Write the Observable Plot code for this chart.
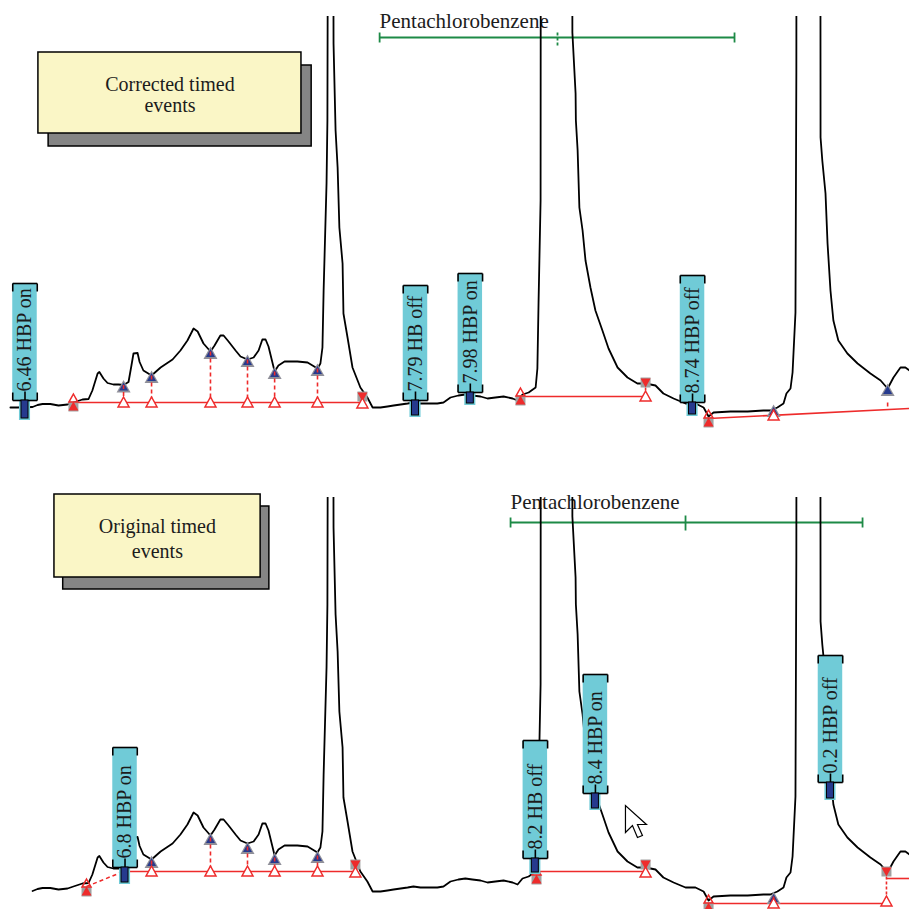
<!DOCTYPE html>
<html><head><meta charset="utf-8">
<script src="https://cdn.jsdelivr.net/npm/d3@7"></script>
<script src="https://cdn.jsdelivr.net/npm/@observablehq/plot@0.6"></script>
<style>
html,body{margin:0;padding:0;background:#fff;}
#chart{width:909px;}
#chart svg{display:block;}
</style></head><body><div id="chart"></div>
<script>
// ---------- data ----------
// retention time (min) and detector signal of the chromatogram trace
const traceTime = [6.401,6.425,6.477,6.494,6.511,6.538,6.566,6.597,6.617,6.648,6.669,6.682,6.700,6.706,6.720,6.734,6.754,6.772,6.789,6.806,6.816,6.823,6.837,6.844,6.857,6.885,6.916,6.957,6.984,7.008,7.029,7.043,7.063,7.087,7.101,7.121,7.132,7.149,7.173,7.190,7.214,7.235,7.252,7.265,7.276,7.286,7.307,7.320,7.341,7.385,7.420,7.454,7.464,7.471,7.475,7.485,7.488,7.491,7.500,7.507,7.509,7.516,7.523,7.529,7.540,7.543,7.557,7.574,7.601,7.625,7.643,7.670,7.694,7.715,7.739,7.763,7.783,7.807,7.831,7.865,7.886,7.910,7.937,7.961,7.985,8.013,8.037,8.064,8.092,8.123,8.140,8.157,8.178,8.202,8.208,8.212,8.219,8.220,8.274,8.327,8.328,8.339,8.340,8.346,8.352,8.363,8.373,8.390,8.407,8.431,8.452,8.483,8.517,8.551,8.579,8.613,8.640,8.675,8.716,8.750,8.778,8.795,8.812,8.870,8.929,8.983,9.007,9.031,9.052,9.062,9.076,9.083,9.093,9.096,9.097,9.138,9.178,9.179,9.185,9.196,9.203,9.213,9.223,9.240,9.271,9.306,9.350,9.385,9.409,9.429,9.453,9.470,9.484];
const traceSignal = [13,13,13.5,15.5,16.5,16.5,15,16,18,21,21.5,30,47,48.5,42,37.5,36,36,35.5,38.5,55,67,67.5,58.5,50,45,53,61,70,80,92,89,77,69,75,85,85,79,70,64,61,63,70,81,81,74,49,55,59,59,58,52,57,73,130,237,300,700,1500,700,377,290,253,193,157,107,83,53,33,23,13,13,14,15,16,17,18,17,17,17,18,23,25,26,25,24,22,23,24,22,20,26,28,33,52,118,220,700,1800,700,388,327,300,270,213,190,160,133,110,90,72,53,43,37,37,35,27,22,17,17,13,4,8,9,9,10,10,13,17,27,32,48,108,348,700,1500,700,283,260,227,177,130,100,80,67,57,47,40,32,43,53,53,50];

const panelNames = ["Corrected timed events", "Original timed events"];
const panelTraceStart = [6.401, 6.477];

// timed events (label text, time, box top / bottom, marker tip)
const eventsTop = [
  {label:"6.46 HBP on",  t:6.451, top:137, bottom:20, tip:2},
  {label:"7.79 HB off",  t:7.790, top:135, bottom:20, tip:5},
  {label:"7.98 HBP on",  t:7.978, top:147, bottom:28, tip:17},
  {label:"8.74 HBP off", t:8.740, top:145, bottom:18, tip:6}
];
const eventsBottom = [
  {label:"6.8 HBP on",  t:6.794, top:157, bottom:37,  tip:22},
  {label:"8.2 HB off",  t:8.201, top:164, bottom:46,  tip:32},
  {label:"8.4 HBP on",  t:8.407, top:230, bottom:111, tip:96},
  {label:"0.2 HBP off", t:9.213, top:249, bottom:122, tip:106}
];

// integration baselines
const baselinesTop = [
  {t1:6.617, s1:18, t2:7.608, s2:18},
  {t1:8.150, s1:24, t2:8.579, s2:24},
  {t1:8.795, s1:2,  t2:9.484, s2:12}
];
const baselinesBottom = [
  {t1:6.789, s1:33, t2:7.584, s2:33},
  {t1:8.205, s1:33, t2:8.579, s2:33},
  {t1:8.795, s1:1,  t2:9.405, s2:1},
  {t1:9.405, s1:26, t2:9.484, s2:26}
];
const dashedBaselinesBottom = [{t1:6.662, s1:18, t2:6.789, s2:33}];

// peak-valley drops (time, signal on trace, signal on baseline)
const dropsTop = [
  {t:6.789, trace:35.5, base:18}, {t:6.885, trace:45, base:18}, {t:7.087, trace:69, base:18},
  {t:7.214, trace:61, base:18}, {t:7.307, trace:49, base:18}, {t:7.454, trace:52, base:18},
  {t:9.018, trace:11, base:5}
];
const dropsTopShort = [{t:9.409, trace:32, base:14}];
const dropsBottom = [
  {t:6.885, trace:44, base:33}, {t:7.087, trace:67, base:33}, {t:7.214, trace:58, base:33},
  {t:7.307, trace:47, base:33}, {t:7.454, trace:49, base:33}, {t:9.018, trace:8, base:1}
];
// baseline end marks (time, trace signal, baseline signal)
const endsTop = [{t:7.608, trace:24, base:17}, {t:8.579, trace:38, base:24}];
const endsBottom = [{t:7.584, trace:40, base:32}, {t:8.579, trace:40, base:32}, {t:9.405, trace:33, base:3}];
// baseline start marks
const startsTop = [{t:6.617, s:18}, {t:8.150, s:24}, {t:8.795, s:2}];
const startsBottom = [{t:6.662, s:17}, {t:8.205, s:29}, {t:8.795, s:1}];

// compound window
const pentaTop = [{label:"Pentachlorobenzene", t1:7.667, t2:8.884, tm:8.277, s:383, ts:399}];
const pentaBottom = [{label:"Pentachlorobenzene", t1:8.116, t2:9.323, tm:8.716, s:382, ts:402}];

// note boxes
const noteTop = [{t1:6.497, t2:7.399, s1:287, s2:368, dt:0.035, ds:-13}];
const noteBottom = [{t1:6.552, t2:7.259, s1:327, s2:410, dt:0.030, ds:-12}];
const noteLinesTop = [{text:"Corrected timed", t:6.948, s:336}, {text:"events", t:6.948, s:315}];
const noteLinesBottom = [{text:"Original timed", t:6.905, s:378}, {text:"events", t:6.905, s:353}];

const cursorBottom = [{t:8.510, s:99}];

// ---------- drawing ----------
const timeDomain = [6.367, 9.484];
const RED = "#ee2b2b", NAVY = "#263a8e", TEAL = "#70cbd7", GREEN = "#1d8a46",
      GRAY = "#8f8f99", INK = "#1c1c1c", YELLOW = "#faf6c6", SHADOW = "#858585";
const FONT = "'Liberation Serif','DejaVu Serif',serif";
const HW = 0.042, MW = 0.012, HALO = 0.019;

function sym(pts) {
  return {draw(ctx, size) {
    const k = Math.sqrt(size / Math.PI);
    ctx.moveTo(pts[0][0] * k, pts[0][1] * k);
    for (let i = 1; i < pts.length; i++) ctx.lineTo(pts[i][0] * k, pts[i][1] * k);
    ctx.closePath();
  }};
}
const TRI_UP = sym([[0,-1],[1,0.8],[-1,0.8]]);
const TRI_DN = sym([[0,1],[1,-0.8],[-1,-0.8]]);
const SQUARE = sym([[-1,-1],[1,-1],[1,1],[-1,1]]);
const CURSOR = {draw(ctx) {
  const p = [[0,0],[0,27],[7,20],[12,32],[17,30],[12,19],[21,19]];
  ctx.moveTo(p[0][0], p[0][1]);
  for (let i = 1; i < p.length; i++) ctx.lineTo(p[i][0], p[i][1]);
  ctx.closePath();
}};

const trace = traceTime.map((t, i) => ({t, s: traceSignal[i]}));

function eventMarks(ev) {
  const blk = {stroke:"#000", strokeWidth:1.6};
  return [
    Plot.rect(ev, {x1:d => d.t - HW, x2:d => d.t + HW, y1:"bottom", y2:"top", fill:TEAL}),
    Plot.rect(ev, {x1:d => d.t - HALO, x2:d => d.t + HALO, y1:d => d.tip - 2, y2:"bottom", fill:TEAL}),
    Plot.link(ev, {x1:d => d.t - HW, x2:d => d.t + HW, y1:"top", y2:"top", ...blk}),
    Plot.link(ev, {x1:d => d.t - HW, x2:d => d.t - HW, y1:"top", y2:d => d.top - 8, ...blk}),
    Plot.link(ev, {x1:d => d.t + HW, x2:d => d.t + HW, y1:"top", y2:d => d.top - 8, ...blk}),
    Plot.link(ev, {x1:d => d.t - HW, x2:d => d.t + HW, y1:"bottom", y2:"bottom", ...blk}),
    Plot.link(ev, {x1:d => d.t - HW, x2:d => d.t - HW, y1:"bottom", y2:d => d.bottom + 8, ...blk}),
    Plot.link(ev, {x1:d => d.t + HW, x2:d => d.t + HW, y1:"bottom", y2:d => d.bottom + 8, ...blk}),
    Plot.link(ev, {x1:"t", x2:"t", y1:"bottom", y2:d => d.bottom + 9, ...blk}),
    Plot.rect(ev, {x1:d => d.t - MW, x2:d => d.t + MW, y1:"tip", y2:"bottom", fill:NAVY, stroke:"#000", strokeWidth:1}),
    Plot.text(ev, {x:"t", y:d => d.bottom + 9, text:"label", rotate:-90, textAnchor:"start",
      fontSize:20, fontFamily:FONT, fill:INK})
  ];
}

function panel(o) {
  const tr = trace.filter(d => d.t >= o.start);
  const marks = [
    // note box with shadow
    Plot.rect(o.note, {x1:d => d.t1 + d.dt, x2:d => d.t2 + d.dt, y1:d => d.s1 + d.ds, y2:d => d.s2 + d.ds,
      fill:SHADOW, stroke:"#000", strokeWidth:1.5}),
    Plot.rect(o.note, {x1:"t1", x2:"t2", y1:"s1", y2:"s2", fill:YELLOW, stroke:"#000", strokeWidth:1.5}),
    Plot.text(o.noteLines, {x:"t", y:"s", text:"text", fontSize:20, fontFamily:FONT, fill:INK}),
    // compound window
    Plot.link(o.penta, {x1:"t1", x2:"t2", y1:"s", y2:"s", stroke:GREEN, strokeWidth:1.8}),
    Plot.link(o.penta, {x1:"t1", x2:"t1", y1:d => d.s - 5, y2:d => d.s + 5, stroke:GREEN, strokeWidth:1.8}),
    Plot.link(o.penta, {x1:"t2", x2:"t2", y1:d => d.s - 5, y2:d => d.s + 5, stroke:GREEN, strokeWidth:1.8}),
    Plot.link(o.penta, {x1:"tm", x2:"tm", y1:d => d.s - 8, y2:d => d.s + 7, stroke:GREEN, strokeWidth:1.8,
      strokeDasharray:o.midDash}),
    Plot.text(o.penta, {x:"t1", y:"ts", text:"label", textAnchor:"start", fontSize:21, fontFamily:FONT, fill:INK}),
    // chromatogram
    Plot.line(tr, {x:"t", y:"s", stroke:"#000", strokeWidth:1.8, clip:true}),
    // integration
    Plot.link(o.baselines, {x1:"t1", x2:"t2", y1:"s1", y2:"s2", stroke:RED, strokeWidth:1.6}),
    Plot.link(o.dashedBaselines, {x1:"t1", x2:"t2", y1:"s1", y2:"s2", stroke:RED, strokeWidth:1.6, strokeDasharray:"4,3"}),
    Plot.dot(o.drops, {x:"t", y:"trace", symbol:TRI_UP, r:7, fill:GRAY, dy:2}),
    Plot.dot(o.drops, {x:"t", y:"trace", symbol:TRI_UP, r:4.5, fill:NAVY, dy:2}),
    Plot.link(o.drops, {x1:"t", x2:"t", y1:"trace", y2:"base", stroke:RED, strokeWidth:1.6, strokeDasharray:"4,3"}),
    Plot.link(o.dropsShort, {x1:"t", x2:"t", y1:d => d.base + 4, y2:"base", stroke:RED, strokeWidth:1.6}),
    Plot.dot(o.dropsShort, {x:"t", y:"trace", symbol:TRI_UP, r:7, fill:GRAY, dy:2}),
    Plot.dot(o.dropsShort, {x:"t", y:"trace", symbol:TRI_UP, r:4.5, fill:NAVY, dy:2}),
    Plot.dot(o.drops, {x:"t", y:"base", symbol:TRI_UP, r:5.5, fill:"white", stroke:RED, strokeWidth:1.5}),
    // baseline ends
    Plot.link(o.ends, {x1:"t", x2:"t", y1:"trace", y2:"base", stroke:RED, strokeWidth:1.6, strokeDasharray:"3,2"}),
    Plot.dot(o.ends, {x:"t", y:"trace", symbol:SQUARE, r:5, fill:"#a0a0a0"}),
    Plot.dot(o.ends, {x:"t", y:"trace", symbol:TRI_DN, r:5, fill:RED}),
    Plot.dot(o.ends, {x:"t", y:"base", symbol:TRI_UP, r:5.5, fill:"white", stroke:RED, strokeWidth:1.5}),
    // baseline starts
    Plot.dot(o.starts, {x:"t", y:d => d.s - 4, symbol:SQUARE, r:5, fill:"#a0a0a0"}),
    Plot.dot(o.starts, {x:"t", y:d => d.s - 4, symbol:TRI_UP, r:5, fill:RED}),
    Plot.dot(o.starts, {x:"t", y:d => d.s + 4, symbol:TRI_UP, r:4.5, fill:"none", stroke:RED, strokeWidth:1.5}),
    // timed events
    ...eventMarks(o.events)
  ];
  if (o.cursor) marks.push(Plot.dot(o.cursor, {x:"t", y:"s", symbol:CURSOR, r:5, fill:"white", stroke:"#000", strokeWidth:1.2}));
  return Plot.plot({
    width:909, height:o.height,
    marginTop:o.marginTop, marginBottom:0, marginLeft:0, marginRight:0,
    x:{domain:timeDomain, axis:null},
    y:{domain:o.yDomain, axis:null},
    style:{background:"white", overflow:"visible"},
    marks
  });
}

const chart = document.getElementById("chart");
chart.append(panel({
  height:454, marginTop:16, yDomain:[-34, 404], start:panelTraceStart[0],
  note:noteTop, noteLines:noteLinesTop, penta:pentaTop, midDash:"3,2",
  baselines:baselinesTop, dashedBaselines:[], drops:dropsTop, dropsShort:dropsTopShort,
  ends:endsTop, starts:startsTop, events:eventsTop
}));
chart.append(panel({
  height:455, marginTop:43, yDomain:[-5, 407], start:panelTraceStart[1],
  note:noteBottom, noteLines:noteLinesBottom, penta:pentaBottom, midDash:null,
  baselines:baselinesBottom, dashedBaselines:dashedBaselinesBottom, drops:dropsBottom, dropsShort:[],
  ends:endsBottom, starts:startsBottom, events:eventsBottom, cursor:cursorBottom
}));
</script></body></html>
